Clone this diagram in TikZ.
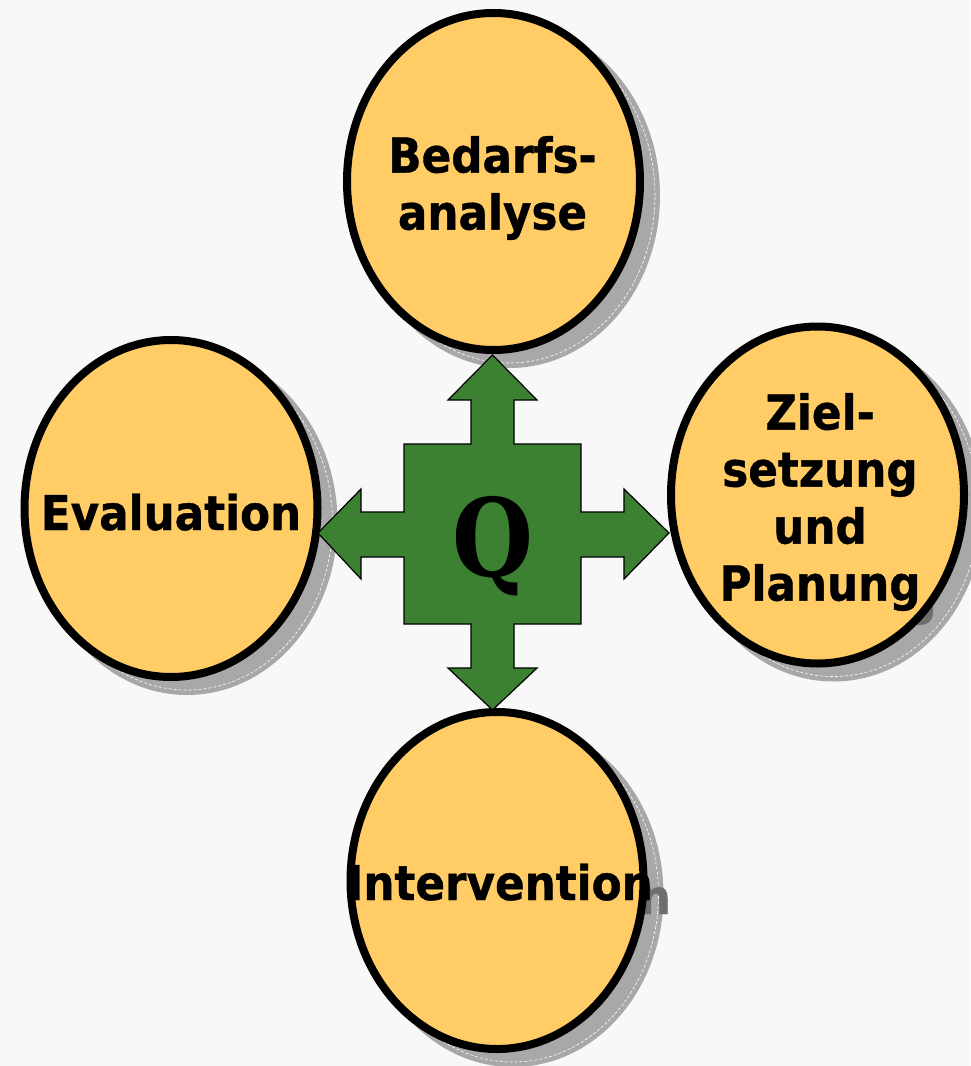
\documentclass[tikz,border=0pt]{standalone}
\usepackage{fontspec}
\setmainfont{DejaVu Sans}[FakeStretch=0.91,BoldFeatures={FakeBold=0.8}]
\newfontfamily\qfont{DejaVu Serif}[FakeStretch=0.86]
\usetikzlibrary{shapes.geometric}
\definecolor{bgcol}{RGB}{248,248,248}
\definecolor{blobfill}{RGB}{255,204,102}
\definecolor{crossgreen}{RGB}{60,128,50}
\definecolor{shadowgray}{RGB}{168,168,168}
\definecolor{textshadow}{RGB}{110,110,110}
\begin{document}
\begin{tikzpicture}[x=1pt,y=-1pt,
  blob/.style={ellipse,draw=black,line width=8pt,fill=blobfill,inner sep=0pt,minimum width=293pt,minimum height=337pt},
  blobshadow/.style={ellipse,fill=shadowgray,inner sep=0pt,minimum width=301pt,minimum height=345pt},
  shadowedge/.style={ellipse,draw=white,densely dashed,line width=0.6pt,inner sep=0pt,minimum width=291pt,minimum height=335pt},
  lbl/.style={font=\fontsize{48}{57}\selectfont\bfseries,align=center,inner sep=0pt},
  lblshadow/.style={lbl,text=textshadow},
  qlbl/.style={font=\fontsize{108}{108}\qfont\bfseries,inner sep=0pt,anchor=base}]
\useasboundingbox[fill=bgcol] (0,0) rectangle (970,1066);
% shadows
\node[blobshadow] (bedarfS) at (509.5,195.5) {};
\node[blobshadow] (evalS) at (187,522.5) {};
\node[blobshadow] (zielS) at (833.5,509) {};
\node[blobshadow] (interS) at (513,894.5) {};
\foreach \s in {bedarfS,evalS,zielS,interS}
  \node[shadowedge] at (\s) {};
\node[lblshadow] at (509.5,202) {Bedarfs-\\analyse};
\node[lblshadow,anchor=base] at (188,544) {Evaluation};
\node[lblshadow] at (836,516) {Ziel-\\setzung\\und\\Planung};
\node[lblshadow,anchor=base] at (518,914) {Intervention};
% ellipses
\node[blob] (bedarf) at (493.5,181.5) {};
\node[blob] (eval) at (171,508.5) {};
\node[blob] (ziel) at (817.5,495) {};
\node[blob] (inter) at (497,880.5) {};
\node[lbl] at (492.5,188) {Bedarfs-\\analyse};
\node[lbl,anchor=base] at (171,530) {Evaluation};
\node[lbl] at (820,502) {Ziel-\\setzung\\und\\Planung};
\node[lbl,anchor=base] at (500,900) {Intervention};
% cross
\draw[fill=crossgreen,draw=black,line width=1.2pt,line join=miter]
  (492.5,355) -- (537,400) -- (514,400) -- (514,444) -- (581,444) -- (581,512)
  -- (624,512) -- (624,489) -- (669,533) -- (624,579) -- (624,557) -- (581,557)
  -- (581,624) -- (514,624) -- (514,668) -- (537,668) -- (492.5,710) -- (448,668)
  -- (471,668) -- (471,624) -- (404,624) -- (404,557) -- (361,557) -- (361,579)
  -- (318,533) -- (361,489) -- (361,512) -- (404,512) -- (404,444) -- (471,444)
  -- (471,400) -- (448,400) -- cycle;
\node[qlbl] (q) at (493,576) {Q};
\end{tikzpicture}
\end{document}
